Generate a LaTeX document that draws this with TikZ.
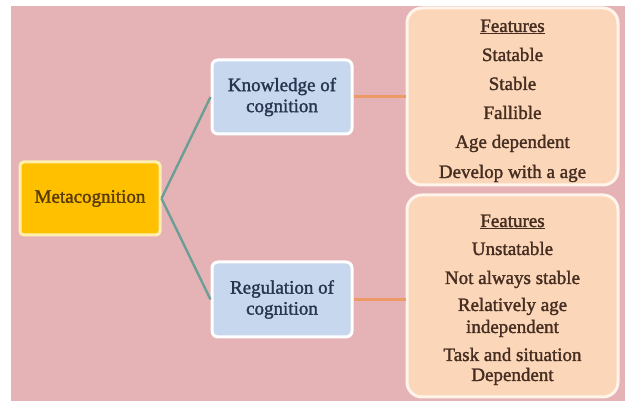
\documentclass[tikz,border=0pt]{standalone}
\usepackage{fontspec}
\setmainfont{Liberation Serif}
\newfontfamily\labelfont[FakeBold=1.6]{Liberation Serif}
\definecolor{pagepink}{HTML}{E5B3B5}
\definecolor{rootfill}{HTML}{FFC000}
\definecolor{rootedge}{HTML}{FFF0B0}
\definecolor{roottext}{HTML}{573A06}
\definecolor{bluefill}{HTML}{C7D8EE}
\definecolor{bluetext}{HTML}{28354F}
\definecolor{peachfill}{HTML}{FCD6B8}
\definecolor{peachedge}{HTML}{FFF4EA}
\definecolor{peachtext}{HTML}{452E21}
\definecolor{tealline}{HTML}{6C9E95}
\definecolor{orangeline}{HTML}{EE9A66}
\begin{document}
\begin{tikzpicture}[x=1pt,y=-1pt,
  every node/.style={font=\labelfont\fontsize{19}{21}\selectfont},
  rootbox/.style={draw=rootedge,line width=3pt,fill=rootfill,rounded corners=4pt,
    minimum width=140pt,minimum height=73pt,text=roottext,align=center,inner sep=0pt},
  topicbox/.style={draw=white,line width=3pt,fill=bluefill,rounded corners=6pt,
    minimum width=140pt,minimum height=74pt,text=bluetext,align=center,inner sep=0pt},
  featbox/.style={draw=peachedge,line width=3pt,fill=peachfill,rounded corners=15pt,
    minimum width=211pt,inner sep=0pt},
  featline/.style={anchor=base,text=peachtext,inner sep=0pt},
  branch/.style={draw=tealline,line width=2.4pt},
  link/.style={draw=orangeline,line width=3pt}]
\useasboundingbox (0,0) rectangle (625,401);
% page background
\fill[pagepink] (11,6) rectangle (625,401);

% boxes
\node[rootbox] (meta) at (90,198.5) {Metacognition};
\node[topicbox] (know) at (282,97) {Knowledge of\\cognition};
\node[topicbox,minimum height=75pt] (regu) at (282,299.5) {Regulation of\\cognition};
\node[featbox,minimum height=177pt] (featA) at (512.5,96.5) {};
\node[featbox,minimum height=202pt] (featB) at (512.5,296) {};

% connectors
\draw[branch] (meta.east) -- (know.west);
\draw[branch] (meta.east) -- (regu.west);
\draw[link] (know.east) -- (know.east -| featA.west);
\draw[link] (regu.east) -- (regu.east -| featB.west);

% feature lists
\node[featline] (a0) at (512.5,32) {\underline{Features}};
\node[featline] (a1) at (512.5,61) {Statable};
\node[featline] (a2) at (512.5,90) {Stable};
\node[featline] (a3) at (512.5,119) {Fallible};
\node[featline] (a4) at (512.5,148) {Age dependent};
\node[featline] (a5) at (512.5,178) {Develop with a age};

\node[featline] (b0) at (512.5,227) {\underline{Features}};
\node[featline] (b1) at (512.5,255) {Unstatable};
\node[featline] (b2) at (512.5,284) {Not always stable};
\node[featline] (b3) at (512.5,311) {Relatively age};
\node[featline] (b4) at (512.5,333) {independent};
\node[featline] (b5) at (512.5,361) {Task and situation};
\node[featline] (b6) at (512.5,381) {Dependent};
\end{tikzpicture}
\end{document}
